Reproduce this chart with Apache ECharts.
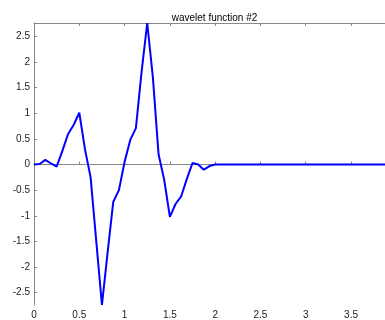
<!DOCTYPE html>
<html>
<head>
<meta charset="utf-8">
<script src="https://cdn.jsdelivr.net/npm/echarts@6/dist/echarts.min.js"></script>
<style>html,body{margin:0;padding:0;background:#fff;}#c{width:385px;height:320px;}</style>
</head>
<body>
<div id="c"></div>
<script>
var titleText = 'wavelet function #2';
var xs = [0, 0.0625, 0.125, 0.1875, 0.25, 0.3125, 0.375, 0.4375, 0.5, 0.5625, 0.625, 0.6875, 0.75, 0.8125, 0.875, 0.9375,
          1, 1.0625, 1.125, 1.1875, 1.25, 1.3125, 1.375, 1.4375, 1.5, 1.5625, 1.625, 1.6875, 1.75, 1.8125, 1.875, 1.9375,
          2, 2.0625, 2.125, 2.1875, 2.25, 2.3125, 2.375, 2.4375, 2.5, 2.5625, 2.625, 2.6875, 2.75, 2.8125, 2.875, 2.9375,
          3, 3.0625, 3.125, 3.1875, 3.25, 3.3125, 3.375, 3.4375, 3.5, 3.5625, 3.625, 3.6875, 3.75, 3.8125, 3.875];
var ys = [0, 0.01, 0.09, 0.02, -0.04, 0.26, 0.59, 0.77, 1.01, 0.3, -0.25, -1.5, -2.74, -1.72, -0.73, -0.5,
          0.05, 0.48, 0.71, 1.8, 2.76, 1.7, 0.2, -0.3, -1.02, -0.77, -0.62, -0.28, 0.03, 0.0, -0.1, -0.03,
          0, 0, 0, 0, 0, 0, 0, 0, 0, 0, 0, 0, 0, 0, 0, 0,
          0, 0, 0, 0, 0, 0, 0, 0, 0, 0, 0, 0, 0, 0, 0];
var xTicks = [0, 0.5, 1, 1.5, 2, 2.5, 3, 3.5];
var yTicks = [-2.5, -2, -1.5, -1, -0.5, 0, 0.5, 1, 1.5, 2, 2.5];

var data = xs.map(function (x, i) { return [x, ys[i]]; });
var font = 'Liberation Sans, Arial, sans-serif';
var axisColor = '#888';

var chart = echarts.init(document.getElementById('c'), null, {renderer: 'canvas'});
chart.setOption({
  animation: false,
  backgroundColor: '#fff',
  title: {
    text: titleText,
    left: 209.5,
    top: 8,
    textAlign: 'center',
    textStyle: {fontSize: 10, fontWeight: 'normal', color: '#000', fontFamily: font}
  },
  grid: {left: 34, right: 0, top: 23, bottom: 10, containLabel: false},
  xAxis: [{
    type: 'value', min: 0, max: 3.875, position: 'bottom',
    axisLine: {show: true, lineStyle: {color: axisColor, width: 1}},
    axisTick: {show: true, inside: true, length: 3, customValues: xTicks, lineStyle: {color: axisColor}},
    axisLabel: {show: true, customValues: xTicks, margin: 5, fontSize: 10, color: '#222', fontFamily: font},
    splitLine: {show: false}
  }, {
    type: 'value', min: 0, max: 3.875, position: 'top',
    axisLine: {show: true, lineStyle: {color: axisColor, width: 1}},
    axisTick: {show: true, inside: true, length: 3, customValues: xTicks, lineStyle: {color: axisColor}},
    axisLabel: {show: false},
    splitLine: {show: false}
  }],
  yAxis: [{
    type: 'value', min: 'dataMin', max: 'dataMax', position: 'left',
    axisLine: {show: true, lineStyle: {color: axisColor, width: 1}},
    axisTick: {show: true, inside: true, length: 3, customValues: yTicks, lineStyle: {color: axisColor}},
    axisLabel: {show: true, customValues: yTicks, margin: 4, fontSize: 10, color: '#222', fontFamily: font},
    splitLine: {show: false}
  }],
  series: [{
    type: 'line',
    data: data,
    xAxisIndex: 0,
    yAxisIndex: 0,
    symbol: 'none',
    smooth: false,
    clip: false,
    lineStyle: {color: '#0000ff', width: 2}
  }]
});
</script>
</body>
</html>
